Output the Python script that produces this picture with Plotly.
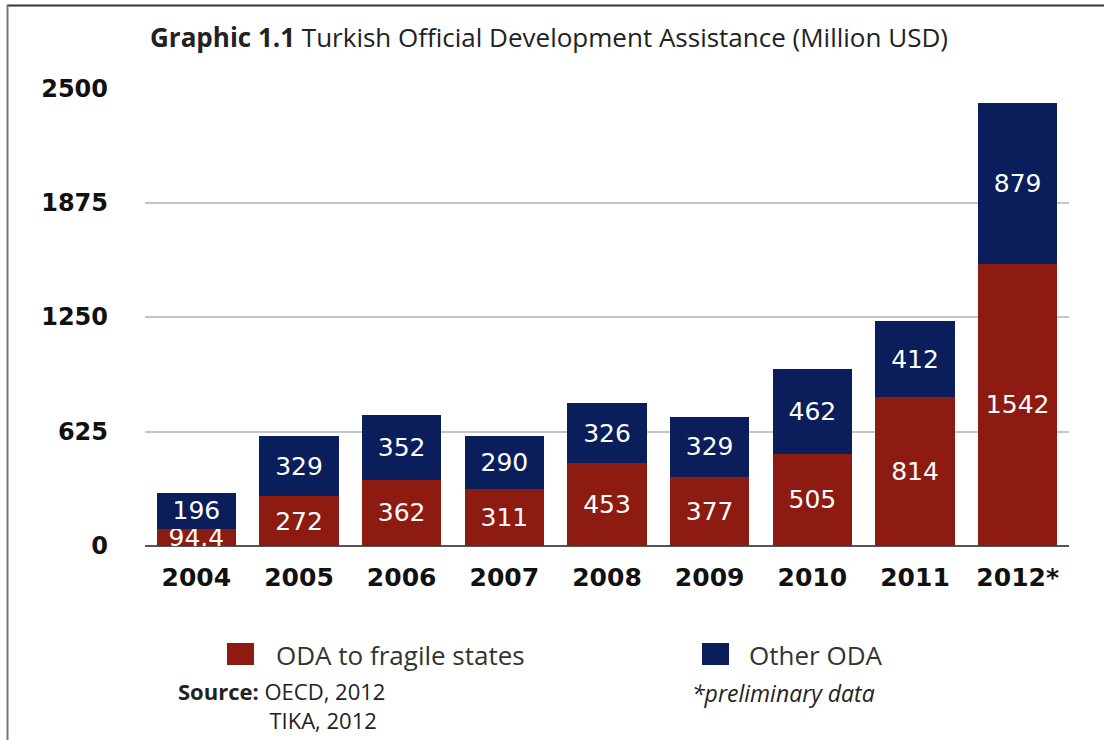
import plotly.graph_objects as go

years = ["2004", "2005", "2006", "2007", "2008", "2009", "2010", "2011", "2012*"]
fragile = [94.4, 272, 362, 311, 453, 377, 505, 814, 1542]
other = [196, 329, 352, 290, 326, 329, 462, 412, 879]
y_ticks = [0, 625, 1250, 1875, 2500]

RED = "#8E1B12"
NAVY = "#0A1E5C"

W, H = 1104, 740
L, R, T, B = 145, 1069, 88, 546


def px(x):
    return (x - L) / (R - L)


def py(y):
    return (B - y) / (B - T)


bar_font = dict(family="DejaVu Sans", size=25, color="white")
fig = go.Figure()
fig.add_trace(go.Bar(x=years, y=fragile, name="ODA to fragile states",
                     marker=dict(color=RED, line=dict(width=0)),
                     texttemplate="%{y}", textposition="inside",
                     insidetextanchor="middle", textangle=0, textfont=bar_font))
fig.add_trace(go.Bar(x=years, y=other, name="Other ODA",
                     marker=dict(color=NAVY, line=dict(width=0)),
                     texttemplate="%{y}", textposition="inside",
                     insidetextanchor="middle", textangle=0, textfont=bar_font))

fig.update_layout(
    barmode="stack", bargap=0.23, showlegend=False,
    width=W, height=H, margin=dict(l=L, r=W - R, t=T, b=H - B),
    paper_bgcolor="white", plot_bgcolor="white",
    uniformtext=dict(minsize=25, mode="show"),
    xaxis=dict(showgrid=False, showline=False, zeroline=False, ticks="",
               tickfont=dict(family="DejaVu Sans", size=25, color="#111", weight="bold"),
               ticklabelstandoff=14),
    yaxis=dict(range=[0, 2501], tickvals=y_ticks, ticktext=[str(v) for v in y_ticks],
               showgrid=True, gridcolor="#C6C6C6", gridwidth=2,
               zeroline=True, zerolinecolor="#555", zerolinewidth=2,
               showline=False, ticks="",
               tickfont=dict(family="DejaVu Sans", size=24, color="#111", weight="bold"),
               ticklabelstandoff=36),
)

indent = "&nbsp;" * 16
ann = [
    dict(x=px(148), y=py(37), text="<b>Graphic 1.1</b> Turkish Official Development Assistance (Million USD)",
         font=dict(family="Open Sans", size=26, color="#222")),
    dict(x=px(274), y=py(655), text="ODA to fragile states", font=dict(family="Open Sans", size=26, color="#333")),
    dict(x=px(747), y=py(655), text="Other ODA", font=dict(family="Open Sans", size=26, color="#333")),
    dict(x=px(176), y=py(705), text="<b>Source:</b> OECD, 2012<br>" + indent + "TIKA, 2012", align="left",
         font=dict(family="Open Sans", size=22, color="#222")),
    dict(x=px(690), y=py(693), text="<i>*preliminary data</i>", font=dict(family="Open Sans", size=23, color="#222")),
]
for a in ann:
    fig.add_annotation(xref="paper", yref="paper", xanchor="left", yanchor="middle",
                       showarrow=False, **a)

shapes = [
    dict(type="rect", x0=px(227), x1=px(254), y0=py(643), y1=py(665), fillcolor=RED, line=dict(width=0)),
    dict(type="rect", x0=px(702), x1=px(729), y0=py(643), y1=py(665), fillcolor=NAVY, line=dict(width=0)),
    dict(type="line", x0=px(7), x1=px(1104), y0=py(5.5), y1=py(5.5), line=dict(color="#333", width=2)),
    dict(type="line", x0=px(7.5), x1=px(7.5), y0=py(5), y1=py(740), line=dict(color="#777", width=2)),
]
for s in shapes:
    fig.add_shape(xref="paper", yref="paper", **s)

fig.write_html("out.html")
